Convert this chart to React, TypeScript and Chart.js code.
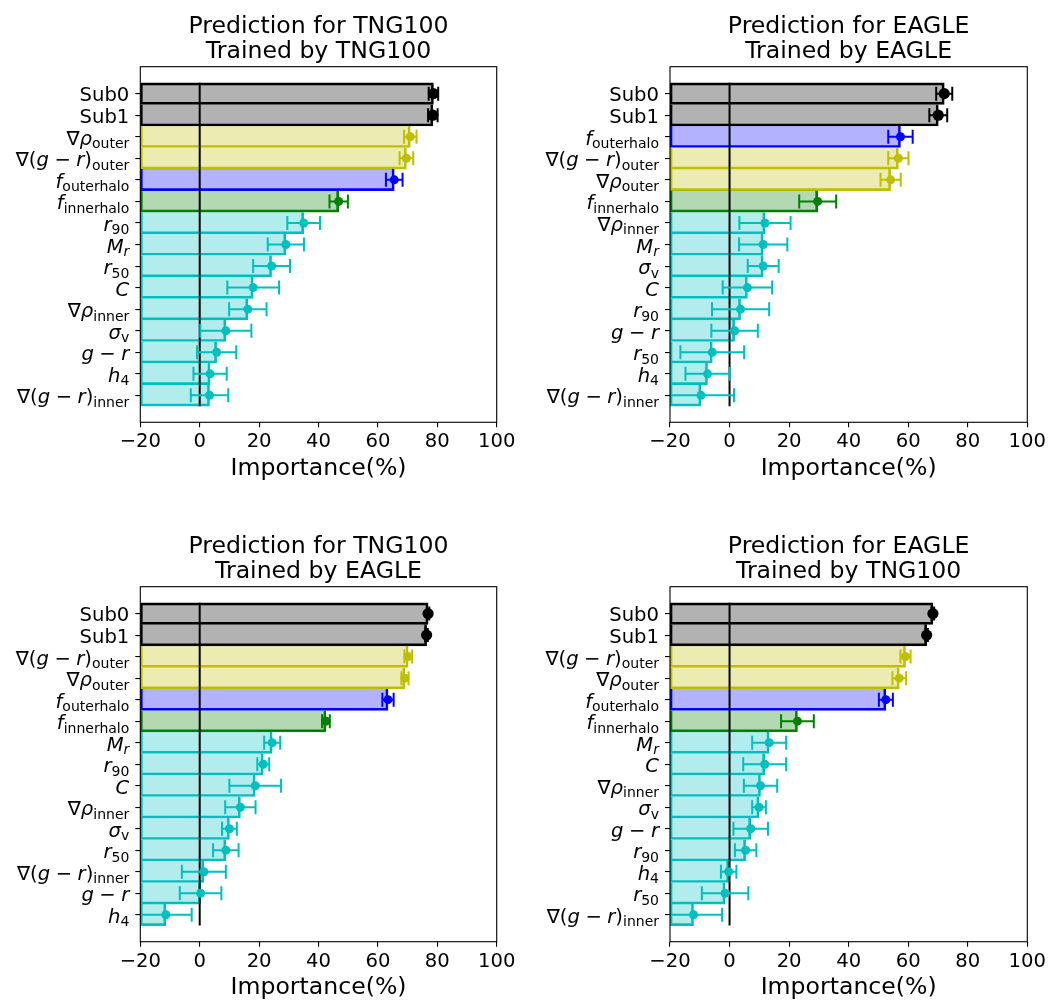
import React, { useEffect, useRef } from 'react';
import { Chart, registerables } from 'chart.js';

Chart.register(...registerables);

const FONT = '"DejaVu Sans", "Liberation Sans", sans-serif';
const TICK_SIZE = 19.6;
const SUB_SIZE = 14;
const LABEL_SIZE = 23.6;

const X_TICKS = [-20, 0, 20, 40, 60, 80, 100];
const X_MIN = -20;
const X_MAX = 100;

// Prediction for TNG100, trained by TNG100
const TITLE_TNG_TNG = ['Prediction for TNG100', 'Trained by TNG100'];
const FEATURES_TNG_TNG = [
  'Sub0', 'Sub1', '$\\nabla\\rho_{\\rm outer}$', '$\\nabla(g-r)_{\\rm outer}$',
  '$f_{\\rm outerhalo}$', '$f_{\\rm innerhalo}$', '$r_{90}$', '$M_r$', '$r_{50}$', '$C$',
  '$\\nabla\\rho_{\\rm inner}$', '$\\sigma_{\\rm v}$', '$g-r$', '$h_4$', '$\\nabla(g-r)_{\\rm inner}$',
];
const IMPORTANCE_TNG_TNG = [78.7, 78.5, 70.9, 69.6, 65.5, 46.8, 35.0, 29.0, 24.2, 18.0, 16.2, 8.8, 5.7, 3.5, 3.3];
const ERROR_TNG_TNG = [1.6, 1.6, 2.1, 2.3, 2.8, 3.1, 5.5, 6.1, 6.2, 8.7, 6.3, 8.6, 6.6, 5.6, 6.3];

// Prediction for EAGLE, trained by EAGLE
const TITLE_EAGLE_EAGLE = ['Prediction for EAGLE', 'Trained by EAGLE'];
const FEATURES_EAGLE_EAGLE = [
  'Sub0', 'Sub1', '$f_{\\rm outerhalo}$', '$\\nabla(g-r)_{\\rm outer}$', '$\\nabla\\rho_{\\rm outer}$',
  '$f_{\\rm innerhalo}$', '$\\nabla\\rho_{\\rm inner}$', '$M_r$', '$\\sigma_{\\rm v}$', '$C$', '$r_{90}$',
  '$g-r$', '$r_{50}$', '$h_4$', '$\\nabla(g-r)_{\\rm inner}$',
];
const IMPORTANCE_EAGLE_EAGLE = [72.1, 70.1, 57.4, 56.7, 54.1, 29.6, 11.9, 11.3, 11.3, 6.0, 3.7, 1.7, -5.8, -7.4, -9.6];
const ERROR_EAGLE_EAGLE = [2.7, 3.0, 4.1, 3.4, 3.4, 6.2, 8.6, 8.1, 5.2, 8.3, 9.6, 7.8, 10.7, 7.4, 11.1];

// Prediction for TNG100, trained by EAGLE
const TITLE_TNG_EAGLE = ['Prediction for TNG100', 'Trained by EAGLE'];
const FEATURES_TNG_EAGLE = [
  'Sub0', 'Sub1', '$\\nabla(g-r)_{\\rm outer}$', '$\\nabla\\rho_{\\rm outer}$', '$f_{\\rm outerhalo}$',
  '$f_{\\rm innerhalo}$', '$M_r$', '$r_{90}$', '$C$', '$\\nabla\\rho_{\\rm inner}$', '$\\sigma_{\\rm v}$',
  '$r_{50}$', '$\\nabla(g-r)_{\\rm inner}$', '$g-r$', '$h_4$',
];
const IMPORTANCE_TNG_EAGLE = [76.9, 76.4, 70.2, 69.1, 63.4, 42.5, 24.4, 21.4, 18.7, 13.7, 10.0, 8.8, 1.4, 0.3, -11.4];
const ERROR_TNG_EAGLE = [0.4, 0.4, 1.3, 1.2, 1.9, 1.3, 2.7, 2.0, 8.7, 5.1, 2.5, 4.3, 7.4, 7.0, 8.7];

// Prediction for EAGLE, trained by TNG100
const TITLE_EAGLE_TNG = ['Prediction for EAGLE', 'Trained by TNG100'];
const FEATURES_EAGLE_TNG = [
  'Sub0', 'Sub1', '$\\nabla(g-r)_{\\rm outer}$', '$\\nabla\\rho_{\\rm outer}$', '$f_{\\rm outerhalo}$',
  '$f_{\\rm innerhalo}$', '$M_r$', '$C$', '$\\nabla\\rho_{\\rm inner}$', '$\\sigma_{\\rm v}$', '$g-r$',
  '$r_{90}$', '$h_4$', '$r_{50}$', '$\\nabla(g-r)_{\\rm inner}$',
];
const IMPORTANCE_EAGLE_TNG = [68.3, 66.2, 59.1, 57.0, 52.5, 22.8, 13.3, 11.8, 10.4, 9.9, 7.1, 5.4, -0.3, -1.5, -12.1];
const ERROR_EAGLE_TNG = [0.4, 0.4, 1.7, 2.3, 2.35, 5.5, 5.7, 7.2, 5.6, 2.3, 5.8, 3.6, 2.6, 7.8, 9.6];

type Group = 'sub' | 'outer' | 'outerhalo' | 'innerhalo' | 'other';

const EDGE: Record<Group, string> = {
  sub: '#000000',
  outer: '#bfbf00',
  outerhalo: '#0000ff',
  innerhalo: '#008000',
  other: '#00bfbf',
};
const FILL: Record<Group, string> = {
  sub: 'rgba(0,0,0,0.3)',
  outer: 'rgba(191,191,0,0.3)',
  outerhalo: 'rgba(0,0,255,0.3)',
  innerhalo: 'rgba(0,128,0,0.3)',
  other: 'rgba(0,191,191,0.3)',
};

function groupOf(label: string): Group {
  if (label.startsWith('Sub')) return 'sub';
  if (label.includes('outerhalo')) return 'outerhalo';
  if (label.includes('innerhalo')) return 'innerhalo';
  if (label.includes('outer')) return 'outer';
  return 'other';
}

// ---- minimal mathtext: italic letters, roman subscripts, spaced minus ----
type Run = { t: string; it: boolean; sub: boolean; op: boolean };
const SYMBOLS: Record<string, [string, boolean]> = {
  nabla: ['\u2207', false],
  rho: ['\u03c1', true],
  sigma: ['\u03c3', true],
};

function parseLabel(src: string): Run[] {
  if (!src.startsWith('$')) return [{ t: src, it: false, sub: false, op: false }];
  const s = src.slice(1, -1);
  const runs: Run[] = [];
  let i = 0;
  const readToken = (sub: boolean, roman: boolean) => {
    if (s[i] === '\\') {
      const m = /^\\([A-Za-z]+)/.exec(s.slice(i))!;
      i += m[0].length;
      const [glyph, it] = SYMBOLS[m[1]];
      runs.push({ t: glyph, it, sub, op: false });
      return;
    }
    const ch = s[i];
    i++;
    if (ch === '-') {
      runs.push({ t: '\u2212', it: false, sub, op: true });
    } else {
      runs.push({ t: ch, it: !roman && /[A-Za-z]/.test(ch), sub, op: false });
    }
  };
  while (i < s.length) {
    if (s[i] === '_') {
      i++;
      if (s[i] === '{') {
        i++;
        let roman = false;
        if (s.startsWith('\\rm', i)) {
          roman = true;
          i += 3;
          while (s[i] === ' ') i++;
        }
        while (i < s.length && s[i] !== '}') readToken(true, roman);
        i++;
      } else {
        readToken(true, false);
      }
    } else {
      readToken(false, false);
    }
  }
  const merged: Run[] = [];
  for (const r of runs) {
    const last = merged[merged.length - 1];
    if (last && !last.op && !r.op && last.it === r.it && last.sub === r.sub) last.t += r.t;
    else merged.push({ ...r });
  }
  return merged;
}

function drawLabel(ctx: CanvasRenderingContext2D, src: string, xRight: number, yMid: number) {
  const runs = parseLabel(src);
  const math = src.startsWith('$');
  let total = 0;
  const items = runs.map((r) => {
    const size = r.sub ? SUB_SIZE : TICK_SIZE;
    const font = `${r.it ? 'italic ' : ''}${size}px ${FONT}`;
    ctx.font = font;
    const w = ctx.measureText(r.t).width;
    const pad = r.op ? size * 0.28 : 0;
    total += w + 2 * pad;
    return { ...r, font, w, pad };
  });
  const base = yMid + (math ? 8 : 7.5);
  let x = xRight - total;
  ctx.textAlign = 'left';
  ctx.textBaseline = 'alphabetic';
  ctx.fillStyle = '#000';
  for (const item of items) {
    ctx.font = item.font;
    x += item.pad;
    ctx.fillText(item.t, x, item.sub ? base + 3.5 : base);
    x += item.w + item.pad;
  }
}

type Area = { left: number; right: number; top: number; bottom: number };

type PanelProps = {
  left: number;
  top: number;
  width: number;
  height: number;
  area: Area;
  axisTitlePad: number;
  title: string[];
  features: string[];
  values: number[];
  errors: number[];
};

function Panel(props: PanelProps) {
  const ref = useRef<HTMLCanvasElement>(null);

  useEffect(() => {
    const { width, height, area, axisTitlePad, title, features, values, errors } = props;
    const canvas = ref.current;
    if (!canvas) return;
    const groups = features.map(groupOf);
    const last = features.length - 1;

    const decor = {
      id: 'panelDecor',
      beforeDatasetDraw(chart: any, args: any) {
        if (args.index !== 2) return;
        const { ctx, chartArea } = chart;
        const xs = chart.scales.x;
        const ys = chart.scales.y;
        ctx.save();
        ctx.beginPath();
        ctx.rect(chartArea.left, chartArea.top, chartArea.right - chartArea.left, chartArea.bottom - chartArea.top);
        ctx.clip();
        ctx.lineWidth = 2;
        values.forEach((v, i) => {
          const y = ys.getPixelForValue(i);
          const x1 = xs.getPixelForValue(v - errors[i]);
          const x2 = xs.getPixelForValue(v + errors[i]);
          ctx.strokeStyle = EDGE[groups[i]];
          ctx.beginPath();
          ctx.moveTo(x1, y);
          ctx.lineTo(x2, y);
          ctx.moveTo(x1, y - 7);
          ctx.lineTo(x1, y + 7);
          ctx.moveTo(x2, y - 7);
          ctx.lineTo(x2, y + 7);
          ctx.stroke();
        });
        ctx.restore();
      },
      afterDraw(chart: any) {
        const { ctx, chartArea } = chart;
        const ys = chart.scales.y;
        ctx.save();
        // axes frame
        ctx.strokeStyle = '#000';
        ctx.lineWidth = 1.1;
        ctx.strokeRect(chartArea.left, chartArea.top, chartArea.right - chartArea.left, chartArea.bottom - chartArea.top);
        // feature labels
        features.forEach((f, i) => drawLabel(ctx, f, chartArea.left - 11, ys.getPixelForValue(i)));
        // panel title
        ctx.font = `${LABEL_SIZE}px ${FONT}`;
        ctx.textAlign = 'center';
        ctx.textBaseline = 'alphabetic';
        ctx.fillStyle = '#000';
        const cx = (chartArea.left + chartArea.right) / 2;
        ctx.fillText(title[0], cx, chartArea.top - 34);
        ctx.fillText(title[1], cx, chartArea.top - 9);
        ctx.restore();
      },
    };

    const chart = new Chart(canvas, {
      type: 'bar',
      data: {
        datasets: [
          {
            type: 'bar',
            data: values.map((v, i) => ({ x: [X_MIN, v], y: i })) as any,
            backgroundColor: groups.map((g) => FILL[g]),
            borderColor: groups.map((g) => EDGE[g]),
            borderWidth: 2,
            borderSkipped: ((c: any) => (c.dataIndex === 0 ? false : 'top')) as any,
            barPercentage: 1,
            categoryPercentage: 1,
            order: 3,
          },
          {
            type: 'line',
            data: [
              { x: 0, y: -0.5 },
              { x: 0, y: last + 0.5 },
            ],
            borderColor: '#000',
            borderWidth: 2,
            pointRadius: 0,
            order: 2,
          },
          {
            type: 'scatter',
            data: values.map((v, i) => ({ x: v, y: i })),
            pointRadius: groups.map((g) => (g === 'sub' ? 5.6 : 4.5)),
            pointBackgroundColor: groups.map((g) => EDGE[g]),
            pointBorderWidth: 0,
            order: 1,
          },
        ] as any,
      },
      options: {
        indexAxis: 'y',
        responsive: false,
        animation: false,
        events: [],
        layout: {
          padding: { top: area.top, left: 0, right: width - area.right, bottom: 0 },
        },
        plugins: {
          legend: { display: false },
          tooltip: { enabled: false },
          title: { display: false },
        },
        scales: {
          x: {
            type: 'linear',
            min: X_MIN,
            max: X_MAX,
            offset: false,
            afterBuildTicks: (s: any) => {
              s.ticks = X_TICKS.map((value) => ({ value }));
            },
            afterFit: (s: any) => {
              s.height = height - area.bottom;
            },
            ticks: {
              color: '#000',
              font: { family: FONT, size: TICK_SIZE },
              padding: 3,
              maxRotation: 0,
              autoSkip: false,
              callback: (v: any) => (Number(v) < 0 ? '\u2212' + Math.abs(Number(v)) : String(v)),
            },
            grid: { drawOnChartArea: false, drawTicks: true, tickLength: 5, color: '#000', lineWidth: 1.1, offset: false },
            border: { display: false },
            title: {
              display: true,
              text: 'Importance(%)',
              color: '#000',
              font: { family: FONT, size: LABEL_SIZE, lineHeight: 1 },
              padding: { top: 0, bottom: axisTitlePad },
            },
          },
          y: {
            type: 'linear',
            reverse: true,
            offset: false,
            min: -1.25,
            max: last + 1.25,
            afterBuildTicks: (s: any) => {
              s.ticks = features.map((_, i) => ({ value: i }));
            },
            afterFit: (s: any) => {
              s.width = area.left;
            },
            ticks: { display: false },
            grid: { drawOnChartArea: false, drawTicks: true, tickLength: 5, color: '#000', lineWidth: 1.1, offset: false },
            border: { display: false },
          },
        },
      } as any,
      plugins: [decor],
    });

    return () => chart.destroy();
  }, []);

  return (
    <canvas
      ref={ref}
      width={props.width}
      height={props.height}
      style={{ position: 'absolute', left: props.left, top: props.top, width: props.width, height: props.height }}
    />
  );
}

export default function App() {
  return (
    <div style={{ position: 'fixed', left: 0, top: 0, width: 1049, height: 1001, background: '#fff' }}>
      <Panel
        left={0} top={0} width={525} height={500}
        area={{ left: 140.3, right: 496.7, top: 66.7, bottom: 422.3 }} axisTitlePad={19}
        title={TITLE_TNG_TNG} features={FEATURES_TNG_TNG}
        values={IMPORTANCE_TNG_TNG} errors={ERROR_TNG_TNG}
      />
      <Panel
        left={525} top={0} width={524} height={500}
        area={{ left: 145, right: 502.3, top: 66.7, bottom: 422.3 }} axisTitlePad={19}
        title={TITLE_EAGLE_EAGLE} features={FEATURES_EAGLE_EAGLE}
        values={IMPORTANCE_EAGLE_EAGLE} errors={ERROR_EAGLE_EAGLE}
      />
      <Panel
        left={0} top={500} width={525} height={501}
        area={{ left: 140.3, right: 496.7, top: 86.7, bottom: 441.7 }} axisTitlePad={1.7}
        title={TITLE_TNG_EAGLE} features={FEATURES_TNG_EAGLE}
        values={IMPORTANCE_TNG_EAGLE} errors={ERROR_TNG_EAGLE}
      />
      <Panel
        left={525} top={500} width={524} height={501}
        area={{ left: 145, right: 502.3, top: 86.7, bottom: 441.7 }} axisTitlePad={1.7}
        title={TITLE_EAGLE_TNG} features={FEATURES_EAGLE_TNG}
        values={IMPORTANCE_EAGLE_TNG} errors={ERROR_EAGLE_TNG}
      />
    </div>
  );
}
